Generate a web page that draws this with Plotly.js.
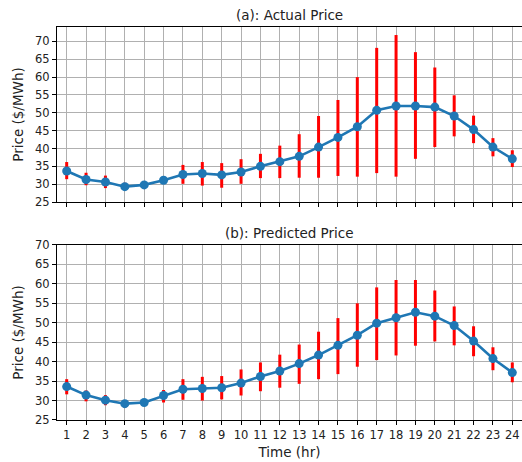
<!DOCTYPE html>
<html>
<head>
<meta charset="utf-8">
<script src="https://cdn.plot.ly/plotly-3.0.1.min.js"></script>
<style>html,body{margin:0;padding:0;background:#fff;}#chart{width:522px;height:462px;}</style>
</head>
<body>
<div id="chart"></div>
<script>
const hours = [1,2,3,4,5,6,7,8,9,10,11,12,13,14,15,16,17,18,19,20,21,22,23,24];

const actualMean = [33.7,31.3,30.6,29.3,29.8,31.1,32.7,33.0,32.6,33.4,35.0,36.3,37.8,40.4,43.1,46.1,50.7,51.9,51.9,51.6,49.1,45.3,40.4,37.1];
const actualHigh = [36.2,33.2,32.4,30.4,30.6,32.1,35.4,36.2,35.9,37.0,38.5,40.8,44.0,49.1,53.6,60.0,68.2,71.8,67.0,62.7,54.9,49.2,42.9,39.5];
const actualLow  = [31.4,29.7,28.9,28.4,29.1,30.1,30.1,29.6,29.0,30.1,31.7,31.7,31.8,31.8,32.3,32.1,33.1,32.1,37.1,40.4,43.4,41.5,37.8,34.8];

const predMean = [33.6,31.4,30.1,29.2,29.5,31.3,32.9,33.1,33.3,34.5,36.2,37.6,39.5,41.7,44.2,46.8,49.9,51.3,52.7,51.7,49.3,45.3,40.8,37.2];
const predHigh = [35.5,32.6,31.4,29.9,30.1,32.7,35.5,36.1,36.3,38.0,39.8,41.8,44.4,47.7,51.2,55.0,59.1,61.0,61.0,58.3,54.2,49.1,43.7,39.8];
const predLow  = [31.6,29.8,28.8,28.2,28.9,29.5,30.2,30.0,30.3,31.3,32.4,33.3,34.3,35.5,36.8,38.7,40.4,41.6,44.1,45.2,44.2,41.4,37.8,34.7];

const xTickLabels = hours.map(String);
const yTicks = [25,30,35,40,45,50,55,60,65,70];

function series(mean, hi, lo, xa, ya) {
  return {
    x: hours, y: mean, xaxis: xa, yaxis: ya,
    type: 'scatter', mode: 'lines+markers',
    line: {color: '#1f77b4', width: 2.6},
    marker: {color: '#1f77b4', size: 9},
    error_y: {
      type: 'data', symmetric: false,
      array: hi.map((v, i) => v - mean[i]),
      arrayminus: lo.map((v, i) => mean[i] - v),
      color: '#ff0000', thickness: 3, width: 0
    },
    showlegend: false, hoverinfo: 'x+y'
  };
}

const fontFam = 'DejaVu Sans, sans-serif';
const axisCommon = {
  showline: true, linecolor: '#000', linewidth: 1, mirror: true,
  showgrid: true, gridcolor: '#b0b0b0', gridwidth: 1,
  ticks: 'outside', ticklen: 4, tickcolor: '#000', tickwidth: 1,
  zeroline: false, tickfont: {family: fontFam, size: 11.5, color: '#222'}
};

const layout = {
  width: 522, height: 462,
  margin: {l: 57, r: 0, t: 27, b: 42},
  paper_bgcolor: '#fff', plot_bgcolor: '#fff',
  font: {family: fontFam, color: '#222'},
  xaxis: Object.assign({}, axisCommon, {
    domain: [0, 1], anchor: 'y', range: [0.5, 24.5],
    tickvals: hours, ticktext: xTickLabels, showticklabels: false
  }),
  yaxis: Object.assign({}, axisCommon, {
    domain: [0.5547, 1], anchor: 'x', range: [25, 74.05], tickvals: yTicks,
    title: {text: 'Price ($/MWh)', font: {family: fontFam, size: 13.5, color: '#222'}, standoff: 8}
  }),
  xaxis2: Object.assign({}, axisCommon, {
    domain: [0, 1], anchor: 'y2', range: [0.5, 24.5],
    tickvals: hours, ticktext: xTickLabels,
    title: {text: 'Time (hr)', font: {family: fontFam, size: 13.5, color: '#222'}, standoff: 6}
  }),
  yaxis2: Object.assign({}, axisCommon, {
    domain: [0, 0.4453], anchor: 'x2', range: [25, 70], tickvals: yTicks,
    title: {text: 'Price ($/MWh)', font: {family: fontFam, size: 13.5, color: '#222'}, standoff: 8}
  }),
  annotations: [
    {text: '(a): Actual Price', xref: 'paper', yref: 'paper', x: 0.5, y: 1, yanchor: 'bottom', yshift: 2,
     showarrow: false, font: {family: fontFam, size: 13.5, color: '#222'}},
    {text: '(b): Predicted Price', xref: 'paper', yref: 'paper', x: 0.5, y: 0.4453, yanchor: 'bottom', yshift: 2,
     showarrow: false, font: {family: fontFam, size: 13.5, color: '#222'}}
  ]
};

Plotly.newPlot('chart', [
  series(actualMean, actualHigh, actualLow, 'x', 'y'),
  series(predMean, predHigh, predLow, 'x2', 'y2')
], layout, {displayModeBar: false, staticPlot: true});
</script>
</body>
</html>
